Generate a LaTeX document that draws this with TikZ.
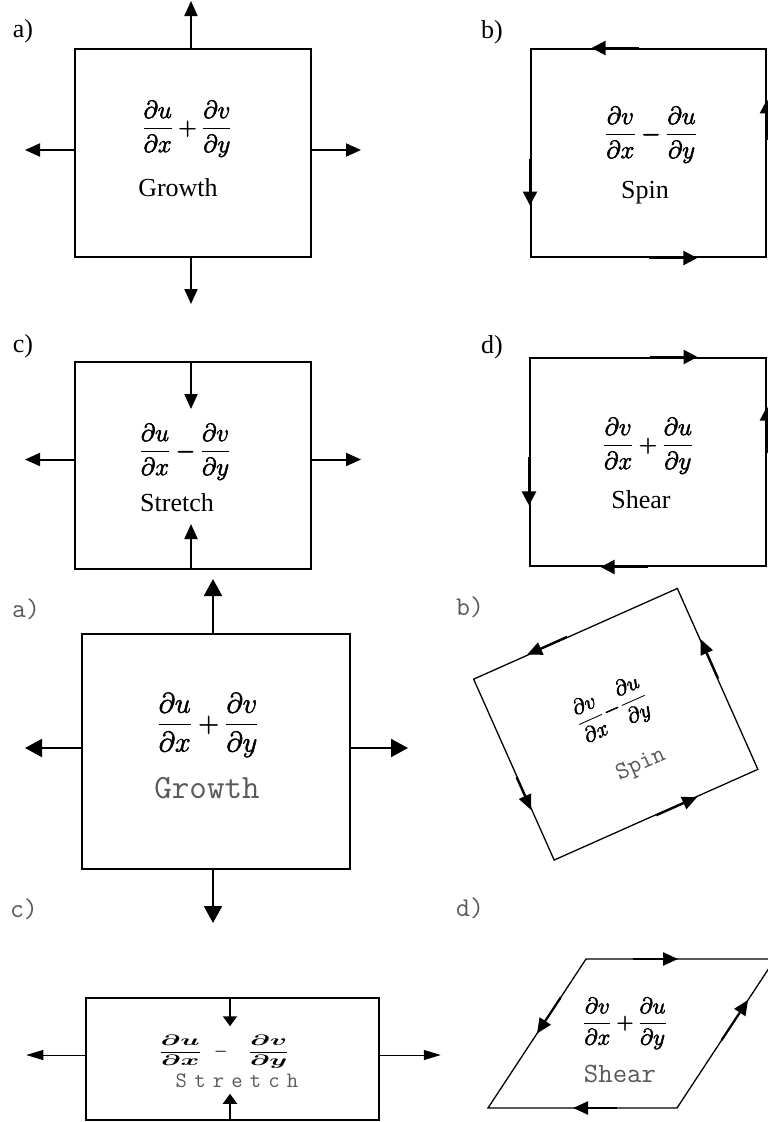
\RequirePackage{fix-cm}
\documentclass[tikz,border=0pt]{standalone}
\usepackage{amsmath,bm}
\usepackage[no-math]{fontspec}
\setmainfont{Liberation Serif}
\usetikzlibrary{arrows.meta,calc}
\newcommand\mybfrac[2]{\scalebox{1.9}[1]{$\dfrac{\bm{\partial #1}}{\bm{\partial #2}}$}}
\newcommand\mystrokeon{\special{pdf:literal direct 2 Tr 0.55 w}}
\newcommand\mystrokeoff{\special{pdf:literal direct 0 Tr}}
\newcommand\mystrokedmath[1]{\mystrokeon$\displaystyle #1$\mystrokeoff}
\tikzset{
  bx/.style={draw, line width=2pt, inner sep=0pt},
  ar/.style={line width=2pt, -{Triangle[length=15pt,width=13pt]}},
  artwo/.style={line width=2pt, -{Triangle[length=17pt,width=18pt]}},
  thinar/.style={line width=1pt, -{Triangle[length=17pt,width=10pt]}},
  inar/.style={line width=2pt, -{Triangle[length=10pt,width=14pt]}},
  rotar/.style={line width=2.6pt, -{Triangle[length=14pt,width=14pt]}},
  rotartwo/.style={line width=2.2pt, -{Triangle[length=15pt,width=13pt]}},
  serif/.style={font=\fontsize{26}{30}\selectfont, inner sep=0pt},
  mth/.style={font=\fontsize{25}{30}\selectfont, inner sep=0pt},
  mono/.style={font=\fontsize{27}{32}\selectfont\ttfamily, text=black!65, inner sep=0pt},
}
\begin{document}
\begin{tikzpicture}[x=1pt,y=-1pt]
\useasboundingbox (0,0) rectangle (768,1122);
\fill[white] (0,0) rectangle (768,1122);
\clip (0,0) rectangle (768,1122);

% ---------- top a: Growth
\node[serif, anchor=base] (la1) at (23,37) {a)};
\node[bx, minimum width=236pt, minimum height=208pt] (A) at (193,153) {};
\node[mth, anchor=base] (Am) at (187,135) {\mystrokedmath{\frac{\partial u}{\partial x}+\frac{\partial v}{\partial y}}};
\node[serif, anchor=base] (At) at (178,196) {Growth};
\draw[ar] ($(A.north)+(-2,0)$) -- ++(0,-47);
\draw[ar] ($(A.south)+(-2,0)$) -- ++(0,46);
\draw[ar] ($(A.west)+(0,-3)$) -- ++(-49,0);
\draw[ar] ($(A.east)+(0,-3)$) -- ++(49,0);

% ---------- top b: Spin
\node[serif, anchor=base] (lb1) at (492,38) {b)};
\node[bx, minimum width=235pt, minimum height=208pt] (B) at (648.5,153) {};
\node[mth, anchor=base] (Bm) at (651,141) {\mystrokedmath{\frac{\partial v}{\partial x}-\frac{\partial u}{\partial y}}};
\node[serif, anchor=base] (Bt) at (645,198) {Spin};
\draw[rotar] ($(B.north west)!0.46!(B.north east)$) -- ($(B.north west)!0.26!(B.north east)$);
\draw[rotar] ($(B.south east)!0.56!(B.north east)$) -- ($(B.south east)!0.755!(B.north east)$);
\draw[rotar] ($(B.north west)!0.53!(B.south west)$) -- ($(B.north west)!0.75!(B.south west)$);
\draw[rotar] ($(B.south west)!0.5!(B.south east)$) -- ($(B.south west)!0.706!(B.south east)$);

% ---------- top c: Stretch
\node[serif, anchor=base] (lc1) at (23,352) {c)};
\node[bx, minimum width=236pt, minimum height=207pt] (C) at (193,465.5) {};
\node[mth, anchor=base] (Cm) at (185,458) {\mystrokedmath{\frac{\partial u}{\partial x}-\frac{\partial v}{\partial y}}};
\node[serif, anchor=base] (Ct) at (177,511) {Stretch};
\draw[ar] ($(C.west)+(0,-6)$) -- ++(-49,0);
\draw[ar] ($(C.east)+(0,-6)$) -- ++(49,0);
\draw[ar] ($(C.north)+(-2,0)$) -- ++(0,48);
\draw[ar] ($(C.south)+(-2,0)$) -- ++(0,-46);

% ---------- top d: Shear
\node[serif, anchor=base] (ld1) at (492,353) {d)};
\node[bx, minimum width=236pt, minimum height=208pt] (D) at (648,462) {};
\node[mth, anchor=base] (Dm) at (648,452) {\mystrokedmath{\frac{\partial v}{\partial x}+\frac{\partial u}{\partial y}}};
\node[serif, anchor=base] (Dt) at (641,508) {Shear};
\draw[rotar] ($(D.north west)!0.508!(D.north east)$) -- ($(D.north west)!0.708!(D.north east)$);
\draw[rotar] ($(D.south east)!0.543!(D.north east)$) -- ($(D.south east)!0.764!(D.north east)$);
\draw[rotar] ($(D.north west)!0.476!(D.south west)$) -- ($(D.north west)!0.707!(D.south west)$);
\draw[rotar] ($(D.south east)!0.5!(D.south west)$) -- ($(D.south east)!0.699!(D.south west)$);

% ---------- lower a: Growth
\node[mono, anchor=base] (la2) at (26,617) {a)};
\node[bx, minimum width=268pt, minimum height=235pt] (E) at (216,751.5) {};
\node[font=\fontsize{28.5}{34}\selectfont, inner sep=0pt, anchor=base] (Em) at (208,732) {\mystrokedmath{\frac{\partial u}{\partial x}+\frac{\partial v}{\partial y}}};
\node[mono, font=\fontsize{34}{40}\selectfont\ttfamily, anchor=base] (Et) at (207,798) {Growth};
\draw[artwo] ($(E.north)+(-3,0)$) -- ++(0,-54);
\draw[artwo] ($(E.south)+(-3,0)$) -- ++(0,53);
\draw[artwo] ($(E.west)+(0,-3.5)$) -- ++(-56,0);
\draw[artwo] ($(E.east)+(0,-3.5)$) -- ++(57,0);

% ---------- lower b: Spin (rotated)
\node[mono, anchor=base] (lb2) at (470,615) {b)};
\node[draw, line width=1.3pt, rotate=24, minimum width=223pt, minimum height=198pt, inner sep=0pt] (F) at (615.75,724.25) {};
\node[font=\fontsize{22}{26}\selectfont, inner sep=0pt, rotate=24] (Fm) at (612,710) {\mystrokedmath{\frac{\partial v}{\partial x}\!-\!\frac{\partial u}{\partial y}}};
\node[mono, font=\fontsize{25}{30}\selectfont\ttfamily, rotate=24] (Ft) at (641,765) {Spin};
\draw[rotartwo] ($(F.north east)!0.54!(F.north west)$) -- ($(F.north east)!0.735!(F.north west)$);
\draw[rotartwo] ($(F.south east)!0.5!(F.north east)$) -- ($(F.south east)!0.716!(F.north east)$);
\draw[rotartwo] ($(F.north west)!0.54!(F.south west)$) -- ($(F.north west)!0.72!(F.south west)$);
\draw[rotartwo] ($(F.south west)!0.5!(F.south east)$) -- ($(F.south west)!0.70!(F.south east)$);

% ---------- lower c: Stretch
\node[mono, anchor=base] (lc2) at (24,917) {c)};
\node[draw, line width=1.5pt, minimum width=293pt, minimum height=122pt, inner sep=0pt] (G) at (232.5,1059) {};
\node[font=\fontsize{15}{18}\selectfont, inner sep=0pt] (Gm) at (224,1052) {\mybfrac{u}{x}\hspace{12pt}$\bm{-}$\hspace{20pt}\mybfrac{v}{y}};
\node[mono, font=\fontsize{22}{26}\selectfont\ttfamily, anchor=base] (Gt) at (237,1087) {S\kern7.2pt t\kern7.2pt r\kern7.2pt e\kern7.2pt t\kern7.2pt c\kern7.2pt h};
\draw[thinar] ($(G.west)+(0,-4)$) -- ++(-59,0);
\draw[thinar] ($(G.east)+(0,-4)$) -- ++(61,0);
\draw[inar] ($(G.north)+(-2.5,0)$) -- ++(0,29);
\draw[inar] ($(G.south)+(-2.5,0)$) -- ++(0,-27);

% ---------- lower d: Shear (parallelogram)
\node[mono, anchor=base] (ld2) at (470,916) {d)};
\coordinate (TL) at (586,959);
\coordinate (TR) at (775,959);
\coordinate (BR) at (677,1108);
\coordinate (BL) at (488,1108);
\draw[line width=1.3pt, line join=miter] (TL) -- (TR) -- (BR) -- (BL) -- cycle;
\node[font=\fontsize{23}{28}\selectfont, inner sep=0pt, anchor=base] (Hm) at (625,1029) {\mystrokedmath{\frac{\partial v}{\partial x}+\frac{\partial u}{\partial y}}};
\node[mono, font=\fontsize{28}{32}\selectfont\ttfamily, anchor=base] (Ht) at (620,1082) {Shear};
\draw[rotartwo] ($(TL)!0.25!(TR)$) -- ($(TL)!0.487!(TR)$);
\draw[rotartwo] ($(BR)!0.456!(TR)$) -- ($(BR)!0.725!(TR)$);
\draw[rotartwo] ($(TL)!0.26!(BL)$) -- ($(TL)!0.5!(BL)$);
\draw[rotartwo] ($(BR)!0.32!(BL)$) -- ($(BR)!0.55!(BL)$);
\end{tikzpicture}
\end{document}
